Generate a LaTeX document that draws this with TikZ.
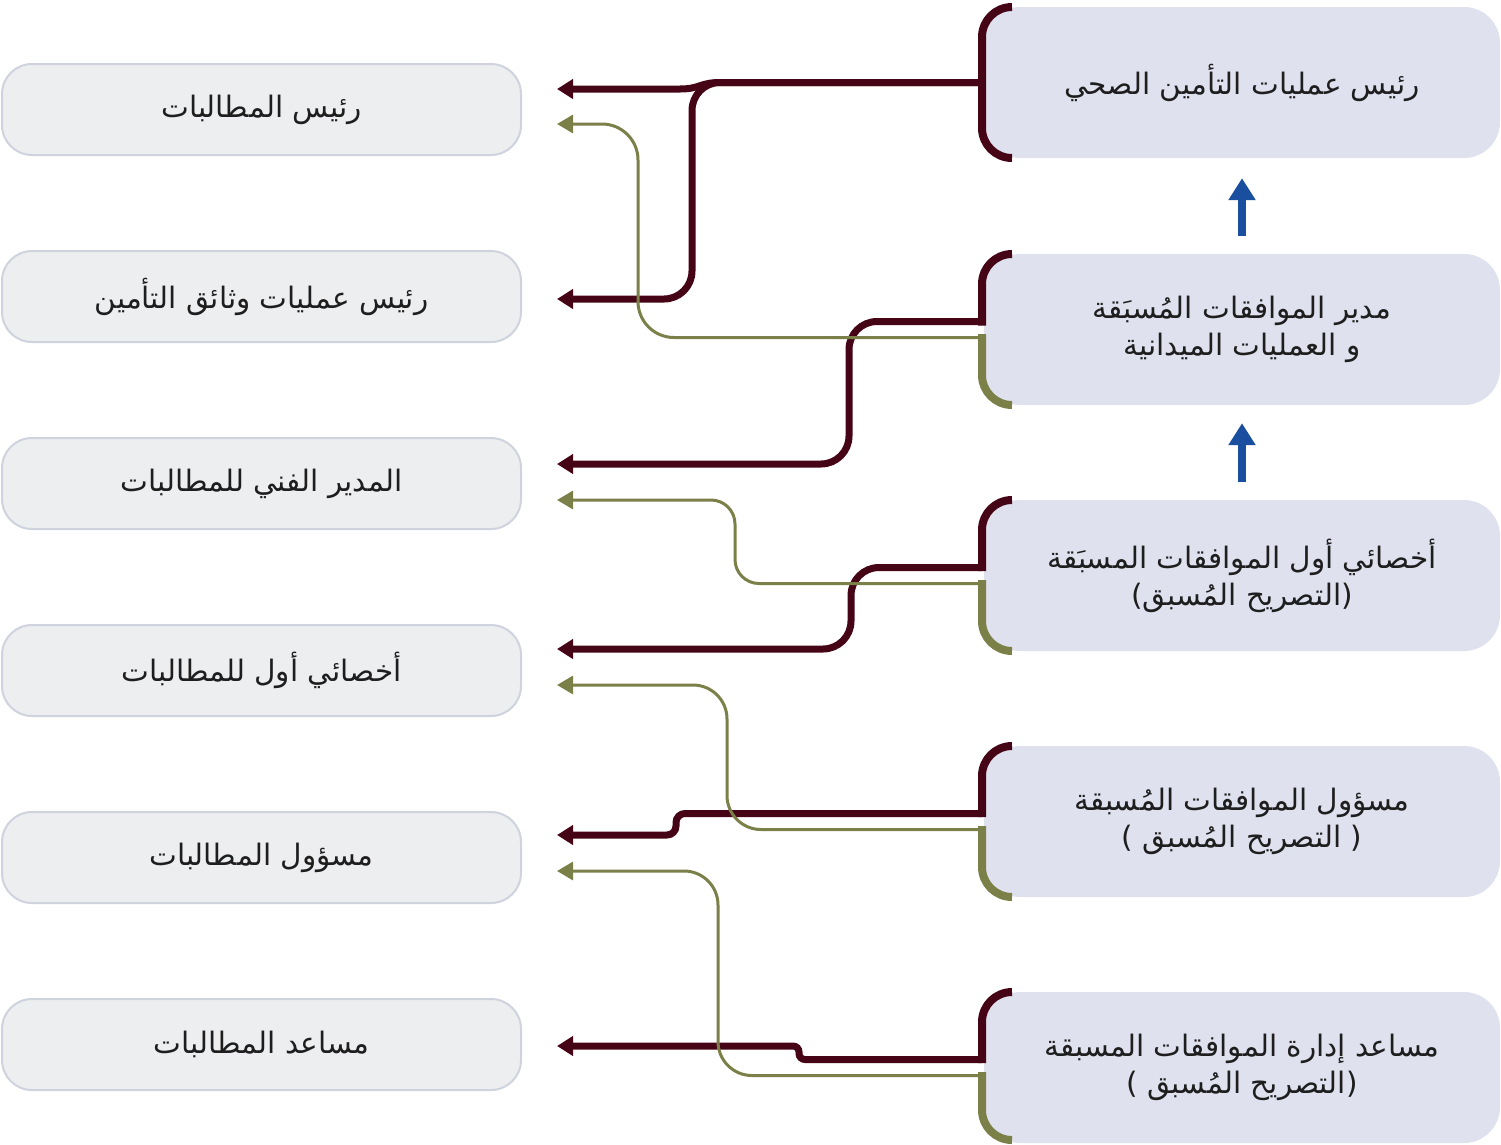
\documentclass[tikz,border=0pt]{standalone}
\usepackage{fontspec}
\newfontfamily\arabicfont[Script=Arabic]{DejaVu Sans}
\TeXXeTstate=1
\usetikzlibrary{arrows.meta,calc}
\definecolor{maroonc}{HTML}{450516}
\definecolor{olivec}{HTML}{7B8049}
\definecolor{bluec}{HTML}{1A4E9E}
\definecolor{lfill}{HTML}{EDEEF0}
\definecolor{lline}{HTML}{CFD3DE}
\definecolor{rfill}{HTML}{DFE1EE}
\definecolor{txtc}{HTML}{1E1E1E}
\begin{document}
\begin{tikzpicture}[x=1pt,y=-1pt,
  lbox/.style={draw=lline, line width=2pt, fill=lfill, rounded corners=30pt,
    minimum width=519pt, minimum height=91pt, inner sep=0pt, text=txtc,
    font=\arabicfont\fontsize{29.5}{34}\selectfont},
  rbox/.style={fill=rfill, rounded corners=36pt, minimum width=516pt,
    minimum height=151pt, inner sep=0pt, align=center, text=txtc,
    font=\arabicfont\fontsize{29.5}{37}\selectfont},
  mbr/.style={draw=maroonc, line width=8pt, rounded corners=30pt},
  obr/.style={draw=olivec, line width=8pt, rounded corners=30pt},
  mcon/.style={draw=maroonc, line width=7pt, -{Triangle[length=16pt,width=19pt]}},
  ocon/.style={draw=olivec, line width=3pt, -{Triangle[length=16pt,width=18pt]}},
  uparrow/.style={draw=bluec, line width=8pt, -{Triangle[length=22pt,width=26pt]}}
]
\useasboundingbox (0,0) rectangle (1501,1144);

% left boxes
\node[lbox] (L1) at (261.5,109.5) {\beginR رئيس المطالبات\endR};
\node[lbox] (L2) at (261.5,296.5) {\beginR رئيس عمليات وثائق التأمين\endR};
\node[lbox] (L3) at (261.5,483.5) {\beginR المدير الفني للمطالبات\endR};
\node[lbox] (L4) at (261.5,670.5) {\beginR أخصائي أول للمطالبات\endR};
\node[lbox] (L5) at (261.5,857.5) {\beginR مسؤول المطالبات\endR};
\node[lbox] (L6) at (261.5,1044.5) {\beginR مساعد المطالبات\endR};

% right boxes
\node[rbox] (R1) at (1242,82.5) {\beginR رئيس عمليات التأمين الصحي\endR};
\node[rbox] (R2) at (1242,329.5) {\beginR مدير الموافقات المُسبَقة\endR\\\beginR و العمليات الميدانية\endR};
\node[rbox] (R3) at (1242,575.5) {\beginR أخصائي أول الموافقات المسبَقة\endR\\\beginR (التصريح المُسبق)\endR};
\node[rbox] (R4) at (1242,821.5) {\beginR مسؤول الموافقات المُسبقة\endR\\\beginR ( التصريح المُسبق )\endR};
\node[rbox] (R5) at (1242,1067.5) {\beginR مساعد إدارة الموافقات المسبقة\endR\\\beginR (التصريح المُسبق )\endR};

% brackets
\draw[mbr] (1012,7) -- (982,7) -- (982,158) -- (1012,158);
\draw[mbr] (1012,254) -- (982,254) -- (982,325.5);
\draw[obr] (982,334) -- (982,405) -- (1012,405);
\draw[mbr] (1012,500) -- (982,500) -- (982,571);
\draw[obr] (982,580) -- (982,651) -- (1012,651);
\draw[mbr] (1012,746) -- (982,746) -- (982,817);
\draw[obr] (982,826) -- (982,897) -- (1012,897);
\draw[mbr] (1012,992) -- (982,992) -- (982,1063);
\draw[obr] (982,1072) -- (982,1140) -- (1012,1140);

% maroon connectors
\draw[mcon] ($(R1.west)+(-2,0)$) -- (720,82.5) .. controls (700,82.5) and (700,89) .. (680,89) -- ($(L1.east)+(35,-20.5)$);
\draw[mcon, rounded corners=28pt] ($(R1.west)+(-2,0)$) -- (692,82.5) -- (692,299) -- ($(L2.east)+(35,2.5)$);
\draw[mcon, rounded corners=28pt] ($(R2.west)+(-2,-8)$) -- (849,321.5) -- (849,464) -- ($(L3.east)+(35,-19.5)$);
\draw[mcon, rounded corners=28pt] ($(R3.west)+(-2,-8)$) -- (851,567.5) -- (851,649) -- ($(L4.east)+(35,-21.5)$);
\draw[mcon, rounded corners=9pt] ($(R4.west)+(-2,-8)$) -- (676,813.5) -- (676,835) -- ($(L5.east)+(35,-22.5)$);
\draw[mcon, rounded corners=6pt] ($(R5.west)+(-2,-8)$) -- (799,1059.5) -- (799,1046) -- ($(L6.east)+(35,1.5)$);

% olive connectors
\draw[ocon, rounded corners=36pt] ($(R2.west)+(-2,8)$) -- (638,337.5) -- (638,124) -- ($(L1.east)+(35,14.5)$);
\draw[ocon, rounded corners=24pt] ($(R3.west)+(-2,8)$) -- (735,583.5) -- (735,500) -- ($(L3.east)+(35,16.5)$);
\draw[ocon, rounded corners=34pt] ($(R4.west)+(-2,8)$) -- (727,829.5) -- (727,685) -- ($(L4.east)+(35,14.5)$);
\draw[ocon, rounded corners=34pt] ($(R5.west)+(-2,8)$) -- (718,1075.5) -- (718,871) -- ($(L5.east)+(35,13.5)$);

% blue arrows
\draw[uparrow] ($(R2.north)+(0,-18)$) -- ($(R1.south)+(0,20)$);
\draw[uparrow] ($(R3.north)+(0,-18)$) -- ($(R2.south)+(0,18)$);
\end{tikzpicture}
\end{document}
